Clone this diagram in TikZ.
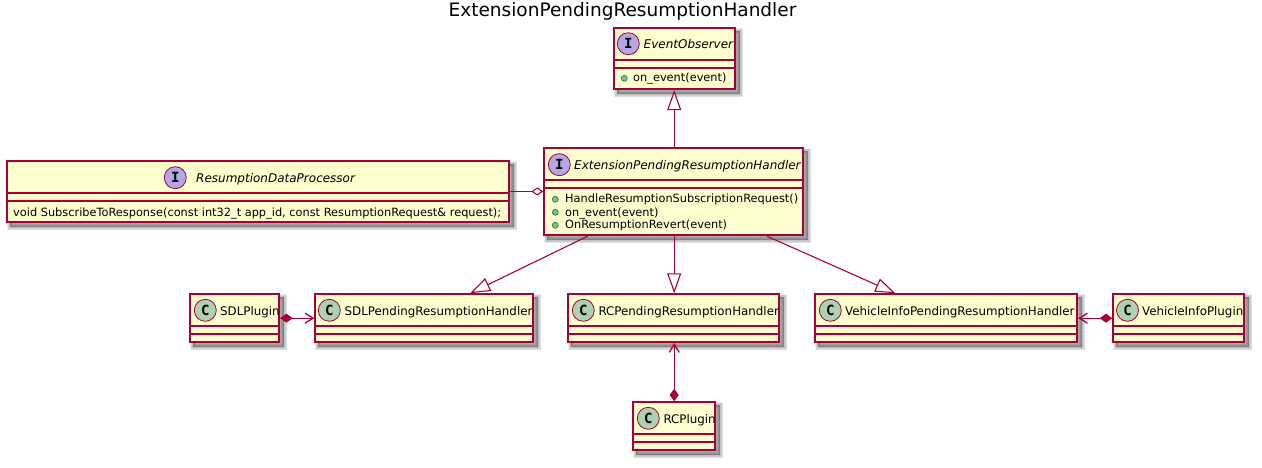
\documentclass[tikz,border=0pt]{standalone}
\usepackage{fontspec}
\setmainfont{DejaVu Sans}
\newfontfamily\monob{DejaVu Sans Mono}[BoldFont={DejaVu Sans Mono Bold}]
\usetikzlibrary{arrows.meta,shadows}
\definecolor{umlline}{HTML}{A80036}
\definecolor{umlfill}{HTML}{FEFECE}
\definecolor{ifacecol}{HTML}{B4A7E5}
\definecolor{classcol}{HTML}{ADD1B2}
\definecolor{dotfill}{HTML}{84BE84}
\definecolor{dotline}{HTML}{038048}
\tikzset{
  x=1pt,y=-1pt,
  softshadow/.style={general shadow={shadow xshift=4pt,shadow yshift=-4pt,draw=black,line width=#1,opacity=.065,fill=black}},
  umlbox/.style={draw=none,fill=umlline,inner sep=0pt,anchor=north west,
    softshadow=7pt,softshadow=5.5pt,softshadow=4pt,softshadow=2.5pt,softshadow=1pt},
  badge/.style={circle,draw=umlline,line width=.8pt,minimum size=22pt,inner sep=0pt,font=\monob\bfseries\fontsize{14}{14}\selectfont},
  ibadge/.style={badge,fill=ifacecol},
  cbadge/.style={badge,fill=classcol},
  cname/.style={anchor=base west,inner sep=0pt,font=\fontsize{11.85}{12}\selectfont,text=black},
  iname/.style={cname,font=\fontsize{12}{12}\selectfont\itshape},
  member/.style={anchor=base west,inner sep=0pt,font=\fontsize{11.35}{11}\selectfont,text=black},
  mdot/.style={circle,draw=dotline,fill=dotfill,line width=.6pt,minimum size=6pt,inner sep=0pt},
  link/.style={draw=umlline,line width=1.1pt},
  inherit/.style={link,-{Triangle[open,fill=white,length=20pt,width=14pt]}},
  aggr/.style={link,-{Diamond[open,fill=white,length=12pt,width=8pt]}},
  comp/.style={link,{Straight Barb[length=8pt,width=10pt,line width=1.3pt]}-{Diamond[fill=umlline,length=12.5pt,width=9pt]}},
  titletext/.style={anchor=base,inner sep=0pt,font=\fontsize{18.5}{18}\selectfont,text=black},
}
% name, x1, y1, x2, y2, sep1, sep2
\newcommand{\umlbox}[7]{%
  \node[umlbox,minimum width=#4-#2+1.5,minimum height=#5-#3+1.5] (#1) at (#2-.75,#3-.75) {};
  \fill[umlfill] (#2+.75,#3+.75) rectangle (#4-.75,#5-.75);
  \fill[umlline] (#2,#6-.75) rectangle (#4,#6+.75);
  \fill[umlline] (#2,#7-.75) rectangle (#4,#7+.75);
}
\begin{document}
\begin{tikzpicture}
\useasboundingbox (0,0) rectangle (1262,468);
\node[titletext] (title) at (622.5,17) {ExtensionPendingResumptionHandler};

\umlbox{eo}{614}{28}{735}{89}{60}{68}
\node[ibadge] (eob) at (628.3,43.7) {I};
\node[iname] (eot) at (643.5,48.3) {EventObserver};
\node[mdot] (eod) at (624.3,78.3) {};
\node[member] (eom) at (633,82) {on\_event(event)};

\umlbox{eh}{544}{148}{803}{235}{180}{188}
\node[ibadge] (ehb) at (559.3,164.7) {I};
\node[iname] (eht) at (574,169.3) {ExtensionPendingResumptionHandler};
\node[mdot] (ehd1) at (555.3,199.3) {};
\node[member] (ehm1) at (565,203) {HandleResumptionSubscriptionRequest()};
\node[mdot] (ehd2) at (555.3,212.3) {};
\node[member] (ehm2) at (565,216) {on\_event(event)};
\node[mdot] (ehd3) at (555.3,225.3) {};
\node[member] (ehm3) at (565,229) {OnResumptionRevert(event)};

\umlbox{rd}{7}{161}{509}{222}{193}{201}
\node[ibadge] (rdb) at (175.3,177.7) {I};
\node[iname] (rdt) at (196,182.3) {ResumptionDataProcessor};
\node[member] (rdm) at (13,216.4) {void SubscribeToResponse(const int32\_t app\_id, const ResumptionRequest\& request);};

\umlbox{sp}{190}{294}{279}{342}{326}{334}
\node[cbadge] (spb) at (205.3,310.3) {C};
\node[cname] (spt) at (220,315) {SDLPlugin};

\umlbox{sh}{315}{294}{533}{342}{326}{334}
\node[cbadge] (shb) at (329.3,310.3) {C};
\node[cname] (sht) at (344.5,315) {SDLPendingResumptionHandler};

\umlbox{rh}{568}{294}{779}{342}{326}{334}
\node[cbadge] (rhb) at (583.3,310.3) {C};
\node[cname] (rht) at (598.3,315) {RCPendingResumptionHandler};

\umlbox{vh}{815}{294}{1077}{342}{326}{334}
\node[cbadge] (vhb) at (830.3,310.3) {C};
\node[cname] (vht) at (845,315) {VehicleInfoPendingResumptionHandler};

\umlbox{vp}{1113}{294}{1244}{342}{326}{334}
\node[cbadge] (vpb) at (1127.5,310.3) {C};
\node[cname] (vpt) at (1142,315) {VehicleInfoPlugin};

\umlbox{rp}{633}{402}{715}{450}{434}{442}
\node[cbadge] (rpb) at (648.3,418.3) {C};
\node[cname] (rpt) at (663.3,423) {RCPlugin};

\draw[inherit] (rp.north |- eh.north) -- (rp.north |- eo.south);
\draw[aggr] (rd.east |- 0,191.5) -- (eh.west |- 0,191.5);
\draw[inherit] ([xshift=44.5pt]eh.south west) -- ([xshift=156pt]sh.north west);
\draw[inherit] (rp.north |- eh.south) -- (rp.north |- rh.north);
\draw[inherit] ([xshift=-37.3pt]eh.south east) -- ([xshift=81pt]vh.north west);
\draw[comp] (sh.west) -- (sp.east);
\draw[comp] (rp.north |- rh.south) -- (rp.north);
\draw[comp] (vh.east) -- (vp.west);
\end{tikzpicture}
\end{document}
